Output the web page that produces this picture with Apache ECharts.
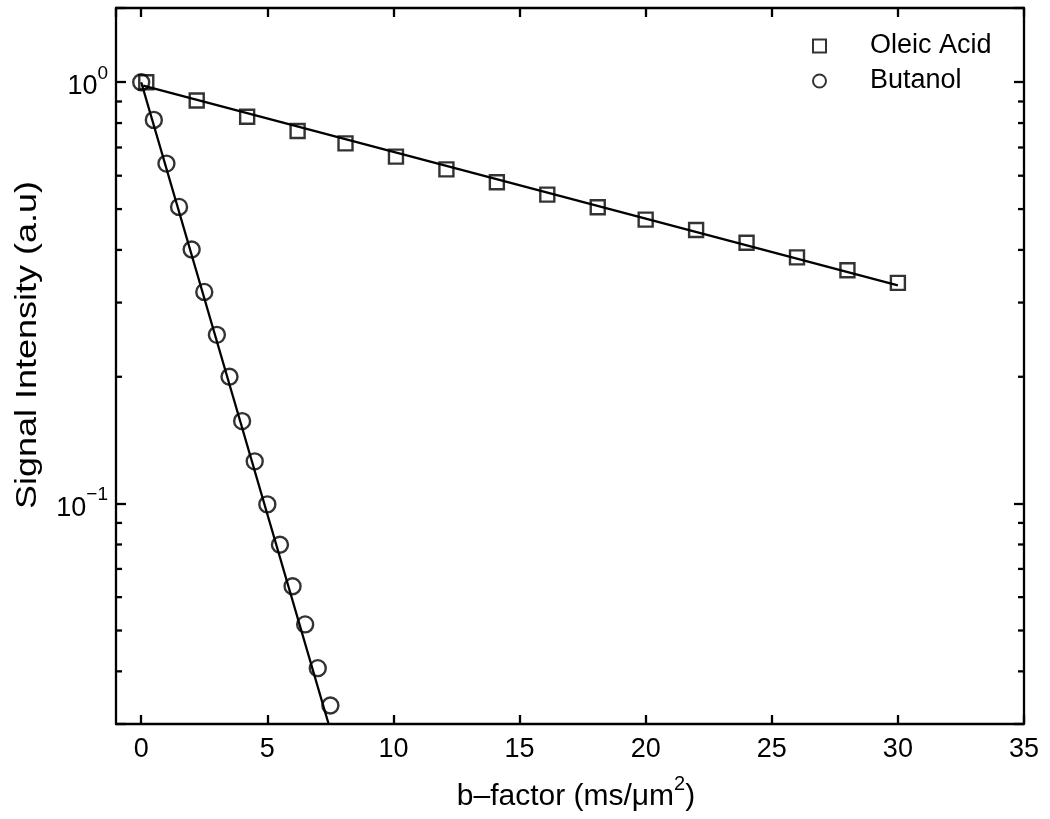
<!DOCTYPE html>
<html>
<head>
<meta charset="utf-8">
<script src="https://cdn.jsdelivr.net/npm/echarts@6/dist/echarts.min.js"></script>
<style>
  html, body { margin: 0; padding: 0; background: #fff; }
  #chart { width: 1050px; height: 819px; }
</style>
</head>
<body>
<div id="chart"></div>
<script>
// ---- data ----
const oleicX = [0.2, 2.2, 4.2, 6.2, 8.1, 10.1, 12.1, 14.1, 16.1, 18.1, 20.0, 22.0, 24.0, 26.0, 28.0, 30.0];
const oleicY = [1.0, 0.905, 0.828, 0.766, 0.716, 0.666, 0.621, 0.579, 0.541, 0.505, 0.472, 0.446, 0.416, 0.384, 0.358, 0.334];
const butanolX = [0, 0.5, 1.0, 1.5, 2.0, 2.5, 3.0, 3.5, 4.0, 4.5, 5.0, 5.5, 6.0, 6.5, 7.0, 7.5];
const butanolY = [1.0, 0.814, 0.641, 0.506, 0.401, 0.318, 0.2515, 0.200, 0.157, 0.126, 0.0996, 0.0799, 0.0637, 0.0517, 0.0407, 0.0332];
const oleicFitX = [0.08, 30.0];
const oleicFitY = [0.982, 0.3295];
const butanolFitX = [0.0, 7.43];
const butanolFitY = [1.0, 0.03];
const yMinorTicks = [0.04, 0.05, 0.06, 0.07, 0.08, 0.09, 0.2, 0.3, 0.4, 0.5, 0.6, 0.7, 0.8, 0.9];
const yMajorTicks = [0.1, 1];
const yMajorLabels = [['10', '\u22121'], ['10', '0']];
const seriesNames = ['Oleic Acid', 'Butanol'];
const xName = ['b\u2013factor (ms/\u03bcm', '2', ')'];
const yName = 'Signal Intensity (a.u)';

const X_MIN = -1, X_MAX = 35, Y_MIN = 0.03, Y_MAX = 1.5;
const FONT = 'Liberation Sans, Arial, Helvetica, sans-serif';
const FS = 27;
const LW = 2.3;

const zip = (a, b) => a.map((v, i) => [v, b[i]]);

function yLabel(v) {
  for (let i = 0; i < yMajorTicks.length; i++) {
    if (Math.abs(Math.log10(v) - Math.log10(yMajorTicks[i])) < 1e-6) {
      return '{b|' + yMajorLabels[i][0] + '}{s|' + yMajorLabels[i][1] + '}';
    }
  }
  return '';
}
const supRich = {
  b: { fontFamily: FONT, fontSize: FS, color: '#000', lineHeight: 36, verticalAlign: 'bottom' },
  s: { fontFamily: FONT, fontSize: 19, color: '#000', lineHeight: 36, verticalAlign: 'top' }
};

const axisLine = { show: true, onZero: false, lineStyle: { color: '#000', width: LW } };

const chart = echarts.init(document.getElementById('chart'), null, { renderer: 'canvas' });
chart.setOption({
  animation: false,
  backgroundColor: '#fff',
  grid: { left: 116, right: 26, top: 8, bottom: 95, containLabel: false },
  legend: {
    data: seriesNames,
    orient: 'vertical',
    left: 807, top: 27,
    itemWidth: 13, itemHeight: 13,
    itemGap: 7,
    textStyle: { fontFamily: FONT, fontSize: FS, color: '#000', padding: [0, 0, 0, 39], lineHeight: 28 },
    itemStyle: { borderWidth: 2 }
  },
  graphic: [
    {
      type: 'text',
      x: 28, y: 345, rotation: Math.PI / 2, scaleX: 1.24,
      style: { text: yName, fontFamily: FONT, fontSize: 29, fill: '#000', align: 'center', verticalAlign: 'middle' }
    }
  ],
  xAxis: [
    {
      type: 'value', min: X_MIN, max: X_MAX, minInterval: 5, maxInterval: 5,
      position: 'bottom',
      name: '{t|' + xName[0] + '}{s|' + xName[1] + '}{t|' + xName[2] + '}',
      nameLocation: 'middle', nameGap: 50,
      nameTextStyle: { padding: [0, 0, 0, 12], rich: {
        t: { fontFamily: FONT, fontSize: 30, color: '#000', lineHeight: 38, verticalAlign: 'bottom' },
        s: { fontFamily: FONT, fontSize: 20, color: '#000', lineHeight: 38, verticalAlign: 'top' }
      } },
      axisLine: axisLine,
      axisTick: { show: true, inside: true, length: 9, lineStyle: { color: '#000', width: LW } },
      axisLabel: { show: true, showMinLabel: false, margin: 12, fontFamily: FONT, fontSize: FS, color: '#000',
        formatter: v => (Math.abs(v % 5) < 1e-9 ? String(v) : '') },
      splitLine: { show: false }
    },
    {
      type: 'value', min: X_MIN, max: X_MAX, minInterval: 5, maxInterval: 5,
      position: 'top',
      axisLine: axisLine,
      axisTick: { show: true, inside: true, length: 9, lineStyle: { color: '#000', width: LW } },
      axisLabel: { show: false },
      splitLine: { show: false }
    }
  ],
  yAxis: [
    {
      type: 'log', logBase: 10, min: Y_MIN, max: Y_MAX,
      position: 'left',
      axisLine: axisLine,
      axisTick: { show: true, inside: true, length: 10, lineStyle: { color: '#000', width: LW } },
      axisLabel: { show: true, margin: 8, formatter: yLabel, rich: supRich },
      splitLine: { show: false }
    },
    {
      type: 'log', logBase: 10, min: Y_MIN, max: Y_MAX,
      position: 'right',
      axisLine: axisLine,
      axisTick: { show: true, inside: true, length: 10, lineStyle: { color: '#000', width: LW } },
      axisLabel: { show: false },
      splitLine: { show: false }
    }
  ],
  series: [
    {
      name: 'Oleic fit', type: 'line', data: zip(oleicFitX, oleicFitY),
      showSymbol: false, symbol: 'none', lineStyle: { color: '#000', width: LW }, z: 2, silent: true
    },
    {
      name: 'Butanol fit', type: 'line', data: zip(butanolFitX, butanolFitY),
      showSymbol: false, symbol: 'none', lineStyle: { color: '#000', width: LW }, z: 2, silent: true
    },
    {
      name: seriesNames[0], type: 'scatter', data: zip(oleicX, oleicY),
      symbol: 'rect', symbolSize: 14,
      itemStyle: { color: 'rgba(0,0,0,0)', borderColor: '#000', borderWidth: 2.4 }, z: 3
    },
    {
      name: seriesNames[1], type: 'scatter', data: zip(butanolX, butanolY),
      symbol: 'circle', symbolSize: 16,
      itemStyle: { color: 'rgba(0,0,0,0)', borderColor: '#000', borderWidth: 2.4 }, z: 3
    },
    {
      name: 'minor ticks', type: 'custom', silent: true, clip: false, z: 5,
      data: yMinorTicks.map(v => [X_MIN, v]),
      renderItem: function (params, api) {
        const v = api.value(1);
        const pl = api.coord([X_MIN, v]);
        const pr = api.coord([X_MAX, v]);
        const st = { stroke: '#000', lineWidth: LW };
        return {
          type: 'group',
          children: [
            { type: 'line', shape: { x1: pl[0], y1: pl[1], x2: pl[0] + 6, y2: pl[1] }, style: st },
            { type: 'line', shape: { x1: pr[0] - 6, y1: pr[1], x2: pr[0], y2: pr[1] }, style: st }
          ]
        };
      }
    }
  ]
});
</script>
</body>
</html>
